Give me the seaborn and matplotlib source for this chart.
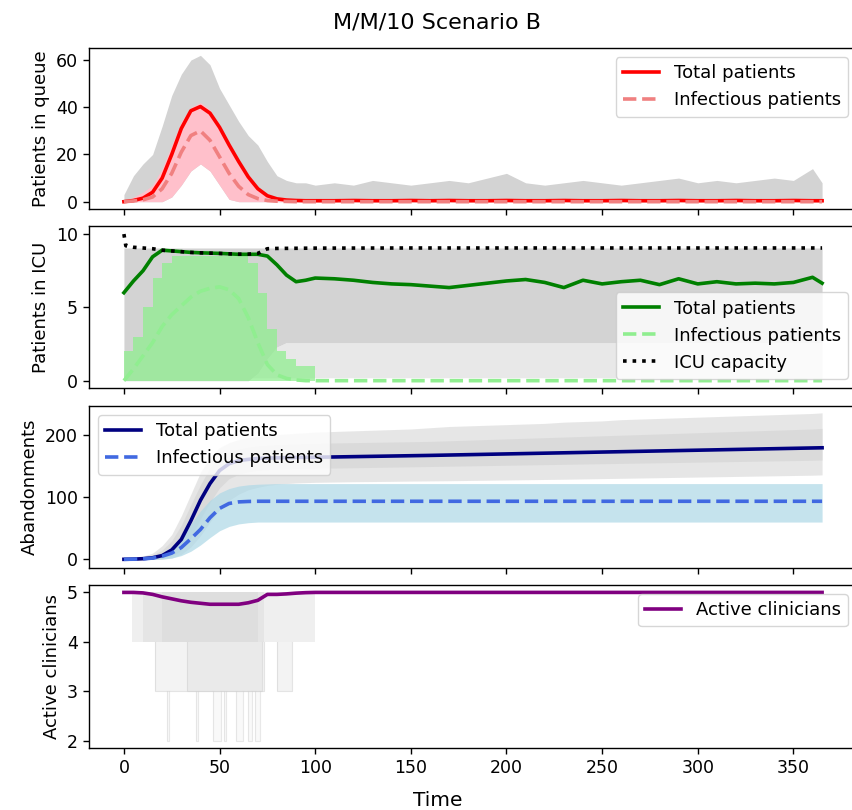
import matplotlib
matplotlib.use("Agg")
import matplotlib.pyplot as plt
import seaborn as sns
import numpy as np

# ---------------- data ----------------
t = [0, 5, 10, 15, 20, 25, 30, 35, 40, 45, 50, 55, 60, 65, 70, 75, 80, 85, 90, 95, 100,
     110, 120, 130, 140, 150, 160, 170, 180, 190, 200, 210, 220, 230, 240, 250, 260,
     270, 280, 290, 300, 310, 320, 330, 340, 350, 360, 365]

# Panel 1: patients in queue
queue_total = [0, 0.5, 1.5, 4, 10, 20, 31, 38.5, 40.3, 37.5, 31.5, 24, 17, 10.5, 5.5, 2.5, 1.2, 0.7, 0.5, 0.4, 0.4,
               0.4, 0.5, 0.4, 0.4, 0.5, 0.4, 0.5, 0.4, 0.4, 0.5, 0.4, 0.4, 0.5, 0.4, 0.4, 0.5, 0.4, 0.4, 0.5,
               0.4, 0.4, 0.5, 0.4, 0.4, 0.5, 0.4, 0.4]
queue_inf = [0, 0.3, 0.8, 2, 5.5, 12, 21, 28, 30, 26, 19, 12, 6.5, 3, 1.3, 0.5, 0.2, 0.1, 0, 0, 0,
             0, 0, 0, 0, 0, 0, 0, 0, 0, 0, 0, 0, 0, 0, 0, 0, 0, 0, 0, 0, 0, 0, 0, 0, 0, 0, 0]
queue_runs_hi = [3, 11, 16, 20, 32, 45, 54, 60, 62, 58, 48, 41, 34, 28, 24, 17, 11, 9, 8, 8, 7,
                 8, 7, 9, 8, 7, 8, 9, 8, 10, 12, 8, 7, 8, 9, 8, 7, 8, 9, 10, 8, 9, 8, 9, 10, 9, 14, 8]
queue_runs_lo = [0, 0, 0, 0, 0, 2, 7, 13, 16, 13, 7, 1, 0, 0, 0, 0, 0, 0, 0, 0, 0,
                 0, 0, 0, 0, 0, 0, 0, 0, 0, 0, 0, 0, 0, 0, 0, 0, 0, 0, 0, 0, 0, 0, 0, 0, 0, 0, 0]
queue_inf_runs_hi = [0, 2, 4, 7, 14, 24, 34, 40, 42, 39, 32, 24, 16, 10, 6, 3, 1.5, 0.5, 0, 0, 0,
                     0, 0, 0, 0, 0, 0, 0, 0, 0, 0, 0, 0, 0, 0, 0, 0, 0, 0, 0, 0, 0, 0, 0, 0, 0, 0, 0]

# Panel 2: patients in ICU
icu_total = [6.0, 6.8, 7.5, 8.45, 8.9, 8.85, 8.8, 8.75, 8.72, 8.7, 8.68, 8.65, 8.62, 8.62, 8.62, 8.5, 7.9, 7.2, 6.75, 6.85, 7.0,
             6.95, 6.85, 6.7, 6.6, 6.55, 6.45, 6.35, 6.5, 6.65, 6.8, 6.9, 6.7, 6.35, 6.85, 6.6, 6.75, 6.85,
             6.55, 6.95, 6.6, 6.75, 6.6, 6.65, 6.6, 6.7, 7.05, 6.65]
icu_inf = [0, 0.8, 1.7, 2.6, 3.7, 4.5, 5.1, 5.7, 6.1, 6.3, 6.4, 6.2, 5.6, 4.3, 2.6, 1.1, 0.4, 0.15, 0.05, 0, 0,
           0, 0, 0, 0, 0, 0, 0, 0, 0, 0, 0, 0, 0, 0, 0, 0, 0, 0, 0, 0, 0, 0, 0, 0, 0, 0, 0]
icu_inf_runs_hi = [2, 3, 5, 7, 8, 8.5, 8.5, 8.5, 8.5, 8.5, 8.5, 8.5, 8.5, 8, 6, 3.5, 2, 1.5, 1, 1, 0,
                   0, 0, 0, 0, 0, 0, 0, 0, 0, 0, 0, 0, 0, 0, 0, 0, 0, 0, 0, 0, 0, 0, 0, 0, 0, 0, 0]
icu_runs_hi = [9.05, 9.05, 9.05, 9.05, 9.05, 9.05, 9.05, 9.05, 9.05, 9.05, 9.05, 9.05, 9.05, 9.05, 9.05, 9.05,
               9.05, 9.05, 9.05, 9.05, 9.05, 9.05, 9.05, 9.05, 9.05, 9.05, 9.05, 9.05, 9.05, 9.05, 9.05, 9.05,
               9.05, 9.05, 9.05, 9.05, 9.05, 9.05, 9.05, 9.05, 9.05, 9.05, 9.05, 9.05, 9.05, 9.05, 9.05, 9.05]
icu_runs_dense_lo = [0, 0, 0, 0, 0, 0, 0, 0, 0, 0, 0, 0, 0, 0, 0.5, 1.5, 2.3, 2.6, 2.6, 2.6, 2.6,
                     2.6, 2.6, 2.6, 2.6, 2.6, 2.6, 2.6, 2.6, 2.6, 2.6, 2.6, 2.6, 2.6, 2.6, 2.6, 2.6, 2.6,
                     2.6, 2.6, 2.6, 2.6, 2.6, 2.6, 2.6, 2.6, 2.6, 2.6]
cap_t = [0, 1, 5, 10, 15, 20, 25, 30, 35, 40, 45, 50, 55, 60, 65, 70, 75, 80, 90, 100, 150, 200, 250, 300, 365]
icu_capacity = [10, 9.2, 9.1, 9.05, 9.0, 8.9, 8.85, 8.8, 8.75, 8.72, 8.7, 8.68, 8.65, 8.63, 8.63, 8.68,
                9.0, 9.02, 9.03, 9.04, 9.05, 9.05, 9.05, 9.05, 9.05]

# Panel 3: abandonments
ab_total = [0, 0.3, 1, 2.5, 6, 15, 32, 62, 95, 122, 143, 154, 159, 161, 162.5, 163, 163.5, 163.8, 164, 164.3, 164.5,
            164.9, 165.4, 165.9, 166.4, 166.9, 167.4, 168, 168.6, 169.2, 169.8, 170.4, 171, 171.6, 172.2,
            172.8, 173.4, 174, 174.6, 175.2, 175.8, 176.4, 177, 177.6, 178.2, 178.8, 179.4, 179.7]
ab_inf = [0, 0.2, 0.7, 2, 5, 10, 19, 33, 48, 67, 82, 90, 92.5, 93.2, 93.5, 93.5, 93.5, 93.5, 93.5, 93.5, 93.5,
          93.5, 93.5, 93.5, 93.5, 93.5, 93.5, 93.5, 93.5, 93.5, 93.5, 93.5, 93.5, 93.5, 93.5, 93.5, 93.5,
          93.5, 93.5, 93.5, 93.5, 93.5, 93.5, 93.5, 93.5, 93.5, 93.5, 93.5]
ab_runs_hi = [0, 2, 5, 10, 22, 40, 70, 105, 140, 165, 180, 188, 193, 196, 198, 200, 201, 202, 203, 204, 205,
              206, 207, 208, 209, 210, 212, 214, 215, 216, 217, 218, 219, 221, 222, 223, 225, 226, 227, 228,
              229, 230, 231, 232, 233, 234, 235, 236]
ab_runs_lo = [0, 0, 0, 0, 0, 2, 8, 20, 38, 60, 80, 95, 105, 112, 116, 119, 121, 122, 123, 123.5, 124,
              124.5, 125, 125.3, 125.6, 126, 126.3, 126.6, 127, 127.4, 127.8, 128.2, 128.6, 129, 129.5, 130,
              130.5, 131, 131.5, 132, 132.5, 133, 133.5, 134, 134.5, 135, 135.5, 136]
ab_runs_core_hi = [0, 1, 3, 7, 15, 30, 55, 88, 120, 148, 165, 173, 178, 181, 183, 184, 185, 185.5, 186, 186.5, 187,
                   187.5, 188, 188.5, 189, 189.5, 190, 191, 192, 193, 194, 195, 196, 197, 198, 199, 200, 201,
                   202, 203, 204, 205, 206, 207, 208, 209, 210, 211]
ab_runs_core_lo = [0, 0, 0, 0, 1, 5, 15, 35, 65, 92, 115, 130, 137, 141, 143, 144, 145, 145.5, 146, 146.3, 146.6,
                   147, 147.5, 148, 148.5, 149, 149.5, 150, 150.5, 151, 151.5, 152, 152.5, 153, 153.5, 154,
                   154.5, 155, 155.5, 156, 156.5, 157, 157.5, 158, 158.5, 159, 159.5, 160]
ab_inf_runs_hi = [0, 0.8, 2.5, 5, 10, 20, 37, 57, 78, 95, 107, 114, 118, 120, 121, 121.5, 122, 122, 122, 122, 122,
                  122, 122, 122, 122, 122, 122, 122, 122, 122, 122, 122, 122, 122, 122, 122, 122, 122, 122,
                  122, 122, 122, 122, 122, 122, 122, 122, 122]
ab_inf_runs_lo = [0, 0, 0, 0, 0.5, 2, 6, 13, 23, 35, 46, 53, 57, 59, 60, 60, 60, 60, 60, 60, 60,
                  60, 60, 60, 60, 60, 60, 60, 60, 60, 60, 60, 60, 60, 60, 60, 60, 60, 60, 60, 60, 60, 60,
                  60, 60, 60, 60, 60]

# Panel 4: active clinicians
clin_mean = [5, 5, 4.99, 4.96, 4.91, 4.87, 4.83, 4.8, 4.78, 4.76, 4.76, 4.76, 4.76, 4.79, 4.84, 4.96, 4.96, 4.97,
             4.985, 4.995, 5,
             5, 5, 5, 5, 5, 5, 5, 5, 5, 5, 5, 5, 5, 5, 5, 5, 5, 5, 5, 5, 5, 5, 5, 5, 5, 5, 5]
# periods (start, end) in which single runs dropped to a given number of clinicians
runs_at_4 = [(4, 100), (10, 73), (20, 70)]
runs_at_3 = [(16.5, 73), (33, 72), (80, 88)]
runs_at_2 = [(22.5, 23.5), (37.5, 38.5), (46.5, 51), (52.5, 53.5), (58.5, 62), (65, 67), (68.5, 71)]

# ---------------- figure ----------------
W, H = 852, 810
fig = plt.figure(figsize=(W / 100, H / 100), dpi=100)

left = 89 / W
width = (857 - 89) / W
panels_px = [(48, 209), (226, 388), (406, 568), (585, 748)]
axes = []
for top, bot in panels_px:
    ax = fig.add_axes([left, 1 - bot / H, width, (bot - top) / H])
    axes.append(ax)

LW = 2.6
GREY = "lightgrey"
TICK_FS = 12.5
LAB_FS = 13
LEG_FS = 13

# ---- Panel 1
ax = axes[0]
ax.fill_between(t, queue_runs_lo, queue_runs_hi, color=GREY, linewidth=0)
ax.fill_between(t, queue_runs_lo, queue_inf_runs_hi, color="pink", linewidth=0)
sns.lineplot(x=t, y=queue_total, ax=ax, color="red", linewidth=LW, label="Total patients")
sns.lineplot(x=t, y=queue_inf, ax=ax, color="lightcoral", linewidth=LW, linestyle="--",
             label="Infectious patients")
ax.set_ylim(-3.1, 65.1)
ax.set_yticks([0, 20, 40, 60])
ax.set_ylabel("Patients in queue", fontsize=LAB_FS)
ax.legend(loc="upper right", fontsize=LEG_FS)

# ---- Panel 2
ax = axes[1]
ax.fill_between(t, [0.2] * len(t), icu_runs_dense_lo, color=GREY, alpha=0.5, linewidth=0)
ax.fill_between(t, icu_runs_dense_lo, icu_runs_hi, color=GREY, linewidth=0)
ax.fill_between(t, [0] * len(t), icu_inf_runs_hi, step="post", color="lightgreen", alpha=0.75, linewidth=0)
sns.lineplot(x=t, y=icu_total, ax=ax, color="green", linewidth=LW, label="Total patients")
sns.lineplot(x=t, y=icu_inf, ax=ax, color="lightgreen", linewidth=LW, linestyle="--",
             label="Infectious patients")
sns.lineplot(x=cap_t, y=icu_capacity, ax=ax, color="black", linewidth=LW, linestyle=":",
             label="ICU capacity")
ax.set_ylim(-0.5, 10.55)
ax.set_yticks([0, 5, 10])
ax.set_ylabel("Patients in ICU", fontsize=LAB_FS)
ax.legend(loc="lower right", fontsize=LEG_FS)

# ---- Panel 3
ax = axes[2]
ax.fill_between(t, ab_runs_lo, ab_runs_hi, color=GREY, alpha=0.55, linewidth=0)
ax.fill_between(t, ab_runs_core_lo, ab_runs_core_hi, color=GREY, alpha=0.6, linewidth=0)
ax.fill_between(t, ab_inf_runs_lo, ab_inf_runs_hi, color="lightblue", alpha=0.7, linewidth=0)
sns.lineplot(x=t, y=ab_total, ax=ax, color="navy", linewidth=LW, label="Total patients")
sns.lineplot(x=t, y=ab_inf, ax=ax, color="royalblue", linewidth=LW, linestyle="--",
             label="Infectious patients")
ax.set_ylim(-14, 247)
ax.set_yticks([0, 100, 200])
ax.set_ylabel("Abandonments", fontsize=LAB_FS)
ax.legend(loc="upper left", fontsize=LEG_FS)

# ---- Panel 4
ax = axes[3]
for (s, e) in runs_at_4:
    ax.fill_between([s, e], [4, 4], [5, 5], color=GREY, alpha=0.35, linewidth=0)
for (s, e) in runs_at_3:
    ax.fill_between([s, e], [3, 3], [4, 4], color=GREY, alpha=0.25, linewidth=0)
    ax.plot([s, s, e, e], [4, 3, 3, 4], color=GREY, alpha=0.6, linewidth=0.8)
for (s, e) in runs_at_2:
    ax.fill_between([s, e], [2, 2], [3, 3], color=GREY, alpha=0.12, linewidth=0)
    ax.plot([s, s, e, e], [3, 2, 2, 3], color=GREY, alpha=0.5, linewidth=0.8)
sns.lineplot(x=t, y=clin_mean, ax=ax, color="purple", linewidth=LW, label="Active clinicians")
ax.set_ylim(1.85, 5.15)
ax.set_yticks([2, 3, 4, 5])
ax.set_ylabel("Active clinicians", fontsize=LAB_FS)
ax.legend(loc="upper right", fontsize=LEG_FS)

for i, ax in enumerate(axes):
    ax.set_xlim(-18.25, 383.25)
    ax.set_xticks([0, 50, 100, 150, 200, 250, 300, 350])
    ax.tick_params(labelsize=TICK_FS, length=4.5, width=1.0)
    for sp in ax.spines.values():
        sp.set_linewidth(1.0)
    if i < 3:
        ax.set_xticklabels([])
    ax.set_xlabel("")

fig.text(437 / W, 1 - 22 / H, "M/M/10 Scenario B", ha="center", va="center", fontsize=16)
fig.text(438 / W, 1 - 800 / H, "Time", ha="center", va="center", fontsize=14.5)

fig.savefig("out.png", dpi=100)
